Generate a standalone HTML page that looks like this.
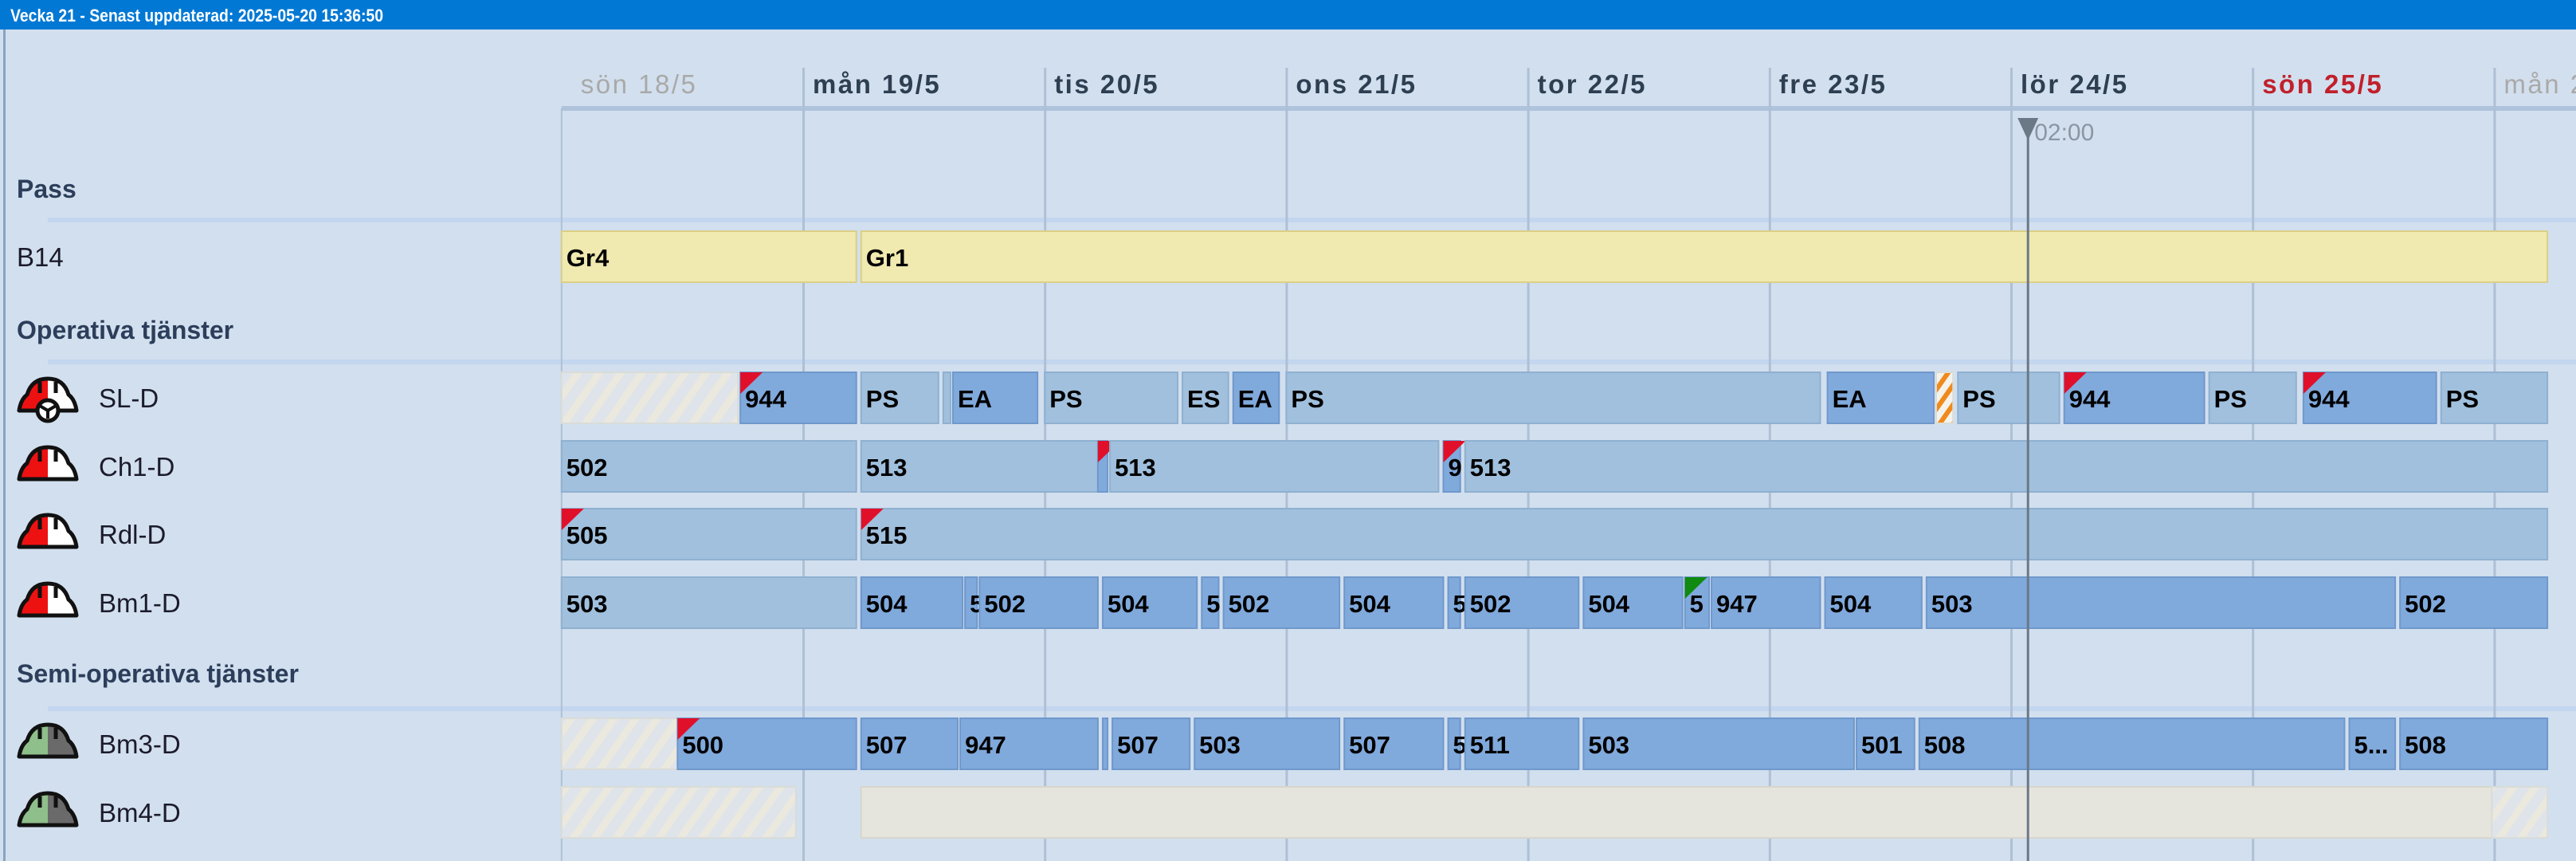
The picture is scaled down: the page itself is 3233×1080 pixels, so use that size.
<!DOCTYPE html>
<html><head><meta charset="utf-8"><style>
html,body{margin:0;padding:0;background:#d2dfee;}
svg{display:block;font-family:"Liberation Sans",sans-serif;}
</style></head><body>
<svg id="chart" width="3233" height="1080" viewBox="0 0 3233 1080">
<defs>
<pattern id="hatch" width="22" height="22" patternUnits="userSpaceOnUse" patternTransform="rotate(35)">
<rect width="22" height="22" fill="#dfe4ea"/><rect width="9" height="22" fill="#ebe8de"/></pattern>
<pattern id="ohatch" width="14" height="14" patternUnits="userSpaceOnUse" patternTransform="rotate(35)">
<rect width="14" height="14" fill="#f4f2ec"/><rect width="6" height="14" fill="#f08a1c"/></pattern>
</defs>
<rect x="0" y="0" width="3233" height="37" fill="#0078d4"/>
<text x="13" y="27" fill="#fff" font-weight="bold" font-size="22" textLength="468" lengthAdjust="spacingAndGlyphs">Vecka 21 - Senast uppdaterad: 2025-05-20 15:36:50</text>
<rect x="4" y="37" width="3" height="1043" fill="#8aa3c0"/>
<g id="grid"></g><g id="rows"></g><g id="bars"></g><g id="now"></g>
</svg>
<script>
const dayLabels=["sön 18/5","mån 19/5","tis 20/5","ons 21/5","tor 22/5","fre 23/5","lör 24/5","sön 25/5","mån 26/5"];
const dayValues=[18,19,20,21,22,23,24,25,26];
const dayColors=["#a9a9a9","#2e3f52","#2e3f52","#2e3f52","#2e3f52","#2e3f52","#2e3f52","#c0202b","#a9a9a9"];
const nowDay=24.07;
const nowLabel="02:00";
const rowNames=["B14","SL-D","Ch1-D","Rdl-D","Bm1-D","Bm3-D","Bm4-D"];
const rowY=[290,467,553,638,724,901,987];
const rowIcon=["none","sl","red","red","red","green","green"];
const b14Bars=[[18.00,19.22,"Gr4","y"],[19.24,26.22,"Gr1","y"]];
const slBars=[[18.00,18.73,"","h"],[18.74,19.22,"944","d",1],[19.24,19.56,"PS","l"],[19.58,19.61,"","l"],[19.62,19.97,"EA","d"],[20.00,20.55,"PS","l"],[20.57,20.76,"ES","l"],[20.78,20.97,"EA","d"],[21.00,23.21,"PS","l"],[23.24,23.68,"EA","d"],[23.69,23.76,"","o"],[23.78,24.20,"PS","l"],[24.22,24.80,"944","d",1],[24.82,25.18,"PS","l"],[25.21,25.76,"944","d",1],[25.78,26.22,"PS","l"]];
const ch1Bars=[[18.00,19.22,"502","l"],[19.24,20.22,"513","l"],[20.22,20.26,"","d",1],[20.27,21.63,"513","l"],[21.65,21.72,"9","d",1],[21.74,26.22,"513","l"]];
const rdlBars=[[18.00,19.22,"505","l",1],[19.24,26.22,"515","l",1]];
const bm1Bars=[[18.00,19.22,"503","l"],[19.24,19.66,"504","d"],[19.67,19.72,"5","d"],[19.73,20.22,"502","d"],[20.24,20.63,"504","d"],[20.65,20.72,"5","d"],[20.74,21.22,"502","d"],[21.24,21.65,"504","d"],[21.67,21.72,"5","d"],[21.74,22.21,"502","d"],[22.23,22.64,"504","d"],[22.65,22.75,"5","d",2],[22.76,23.21,"947","d"],[23.23,23.63,"504","d"],[23.65,25.59,"503","d"],[25.61,26.22,"502","d"]];
const bm3Bars=[[18.00,18.48,"","h"],[18.48,19.22,"500","d",1],[19.24,19.64,"507","d"],[19.65,20.22,"947","d"],[20.24,20.26,"","d"],[20.28,20.60,"507","d"],[20.62,21.22,"503","d"],[21.24,21.65,"507","d"],[21.67,21.72,"5","d"],[21.74,22.21,"511","d"],[22.23,23.35,"503","d"],[23.36,23.60,"501","d"],[23.62,25.38,"508","d"],[25.40,25.59,"5...","d"],[25.61,26.22,"508","d"]];
const bm4Bars=[[18.00,18.97,"","h"],[19.24,25.99,"","g"],[25.99,26.22,"","h"]];
const allBars=[b14Bars,slBars,ch1Bars,rdlBars,bm1Bars,bm3Bars,bm4Bars];

const NS="http://www.w3.org/2000/svg";
const X=d=>1008+(d-19)*303.2;
function mk(tag,attrs,parent,txt){const e=document.createElementNS(NS,tag);for(const k in attrs)e.setAttribute(k,attrs[k]);if(txt!==undefined)e.textContent=txt;parent.appendChild(e);return e;}
const grid=document.getElementById('grid'),rows=document.getElementById('rows'),bars=document.getElementById('bars'),now=document.getElementById('now');
[[276],[454],[889]].forEach(([y])=>{const r=mk('rect',{x:60,y:y-3,width:3173,height:6,fill:'#c3d6ef'},grid);

});
const hl=mk('rect',{x:X(18),y:133,width:3233-X(18),height:6,fill:'#afc3dc'},grid);


dayValues.forEach((d,i)=>{
 const x=X(d);
 const ln=mk('rect',{x:x-1,y:i==0?136:85,width:i==0?2:3,height:1080-(i==0?136:85),fill:'#aec0d6'},grid);
 
 
 const t=mk('text',{x:x+(i==0?24:12),y:117,fill:dayColors[i],'font-size':33,'letter-spacing':2.5,'font-weight':(i==0||i==8)?'normal':'bold'},grid,dayLabels[i]);
 
 
});
[["Pass",237],["Operativa tjänster",414],["Semi-operativa tjänster",845]].forEach(([s,y])=>{
 const t=mk('text',{x:21,y:y+11,fill:'#2c3e5a','font-size':32,'font-weight':'bold'},rows,s);
 
 
});
function helmet(x,y,kind){
 const g=mk('g',{transform:`translate(${x},${y})`},rows);
 
 
 const L=kind=='green'?'#8fbf8a':'#ee1111',R=kind=='green'?'#6a6a6a':'#ffffff';
 mk('path',{d:'M4 42 Q6 28 14 22 Q20 2 40 2 L40 42 Z',fill:L},g);
 mk('path',{d:'M40 2 Q60 2 66 22 Q74 28 76 42 L40 42 Z',fill:R},g);
 mk('path',{d:'M4 42 Q6 28 14 22 Q20 2 40 2 Q60 2 66 22 Q74 28 76 42 Z M30 6 V20 M50 6 V20',fill:'none',stroke:'#111','stroke-width':5,'stroke-linejoin':'round'},g);
 if(kind=='sl'){mk('circle',{cx:40,cy:42,r:13,fill:'#fff',stroke:'#111','stroke-width':5},g);mk('path',{d:'M40 42 V52 M40 42 L30 36 M40 42 L50 36',stroke:'#111','stroke-width':4},g);}
}
rowNames.forEach((n,i)=>{
 const cy=rowY[i]+32;
 const t=mk('text',{x:i==0?21:124,y:cy+12,fill:'#1b1b2b','font-size':33},rows,n);
 
 
 if(rowIcon[i]!='none')helmet(20,cy-26,rowIcon[i]);
});
const fills={l:'#a0c0dd',d:'#80a9dc',y:'#f0e9b0',h:'url(#hatch)',o:'url(#ohatch)',g:'#e6e5dd'};
const strokes={l:'#8fb0d0',d:'#6f98cc',y:'#dccf86',h:'#d9dcd8',o:'#d9dcd8',g:'#d7d6cc'};
allBars.forEach((list,ri)=>{
 const y=rowY[ri],h=64;
 list.forEach(b=>{
  const x0=X(b[0]),x1=X(b[1]);
  const r=mk('rect',{x:x0,y:y,width:Math.max(2,x1-x0),height:h,fill:fills[b[3]],stroke:strokes[b[3]],'stroke-width':2},bars);
  
  
  if(b[4]){const f=mk('path',{d:`M${x0} ${y} L${x0+28} ${y} L${x0} ${y+27} Z`,fill:b[4]==2?'#108a10':'#e0102a'},bars);
   
   }
  if(b[2]){const t=mk('text',{x:x0+6,y:y+44,fill:'#000','font-size':31,'font-weight':'bold'},bars,b[2]);
   
   }
 });
});
const nx=X(nowDay);
const nl=mk('rect',{x:nx-1.5,y:150,width:3,height:930,fill:'#6b7886'},now);


const tri=mk('path',{d:`M${nx-13} 148 L${nx+13} 148 L${nx} 176 Z`,fill:'#6b7886'},now);


const nt=mk('text',{x:nx+8,y:176,fill:'#8a96a4','font-size':30},now,nowLabel);


</script>
</body></html>
